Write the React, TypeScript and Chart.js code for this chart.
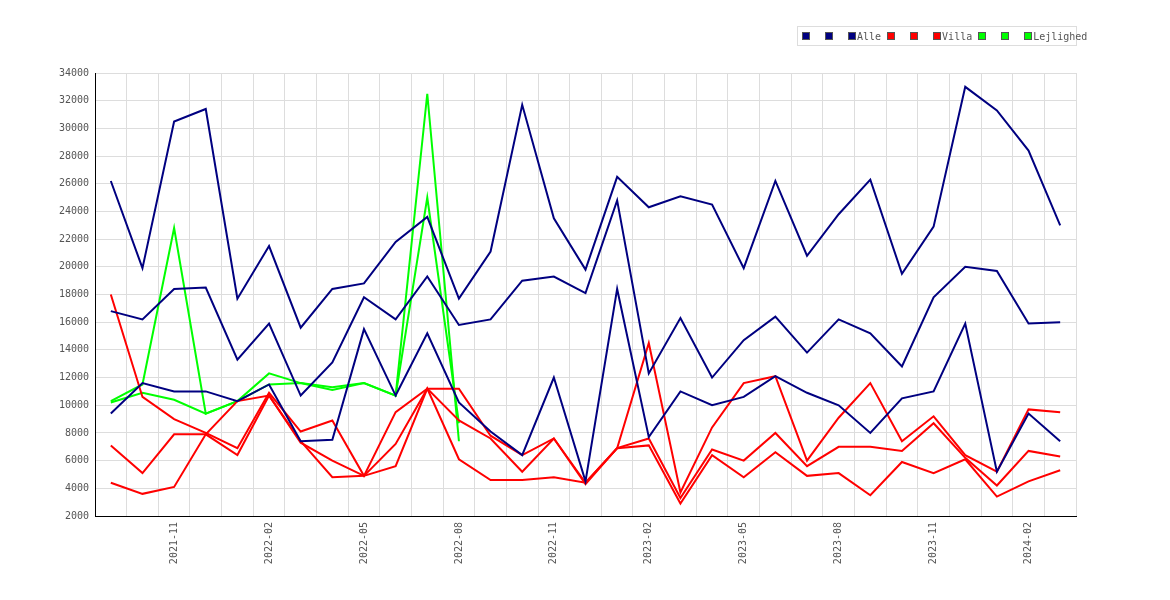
import React, { useEffect, useRef } from "react";
import { Chart, registerables } from "chart.js";
Chart.register(...registerables);

const months = ["2021-09","2021-10","2021-11","2021-12","2022-01","2022-02","2022-03","2022-04","2022-05","2022-06","2022-07","2022-08","2022-09","2022-10","2022-11","2022-12","2023-01","2023-02","2023-03","2023-04","2023-05","2023-06","2023-07","2023-08","2023-09","2023-10","2023-11","2023-12","2024-01","2024-02","2024-03"];

const alle1 = [26200,19900,30500,31400,17700,21500,15600,18400,18800,21800,23600,17700,21100,31700,23500,19800,26500,24300,25100,24500,19900,26200,20800,23800,26300,19500,22900,33000,31300,28400,23000];
const alle2 = [16800,16200,18400,18500,13300,15900,10700,13100,17800,16200,19300,15800,16200,19000,19300,18100,24800,12300,16300,12000,14700,16400,13800,16200,15200,12800,17800,20000,19700,15900,16000];
const alle3 = [9400,11600,11000,11000,10300,11500,7400,7500,15500,10700,15200,10200,8100,6400,12000,4500,18400,7700,11000,10000,10600,12100,10900,10000,8000,10500,11000,15900,5200,9400,7400];
const villa1 = [18000,10600,9000,8000,6900,10900,8100,8900,4900,9500,11200,11200,7800,6400,7600,4400,6900,14500,3700,8400,11600,12100,6000,9100,11600,7400,9200,6400,5200,9700,9500];
const villa2 = [7100,5100,7900,7900,6400,10700,7300,6000,4900,7200,11200,8900,7600,5200,7600,4300,6900,7600,3300,6800,6000,8000,5600,7000,7000,6700,8700,6200,4200,6700,6300];
const villa3 = [4400,3600,4100,7900,10300,10700,7400,4800,4900,5600,11200,6100,4600,4600,4800,4400,6900,7100,2900,6400,4800,6600,4900,5100,3500,5900,5100,6100,3400,4500,5300];
const lej1: (number | null)[] = [10300,11500,22800,9400,10300,12300,11600,11300,11600,10700,32500,7400];
const lej2: (number | null)[] = [10200,10900,10400,9400,10300,11500,11600,11100,11600,10700,25000,8700];
const lej3: (number | null)[] = [];
const tickEvery = 3;

const NAVY = "#000080", RED = "#ff0000", GREEN = "#00ff00";

export default function App() {
  const ref = useRef<HTMLCanvasElement>(null);
  useEffect(() => {
    document.body.style.margin = "0";
    const mk = (data: (number | null)[], c: string) => ({
      label: "", data, borderColor: c, backgroundColor: c, borderWidth: 2,
      pointRadius: 0, tension: 0, fill: false,
    });
    const chart = new Chart(ref.current!, {
      type: "line",
      data: {
        labels: months,
        datasets: [mk(alle1, NAVY), mk(alle2, NAVY), mk(alle3, NAVY), mk(villa1, RED), mk(villa2, RED), mk(villa3, RED), mk(lej1, GREEN), mk(lej2, GREEN), mk(lej3, GREEN)],
      },
      options: {
        animation: false, responsive: false,
        layout: { padding: { top: 73, right: 94, left: 0, bottom: 0 } },
        plugins: { legend: { display: false }, tooltip: { enabled: false } },
        scales: {
          x: {
            offset: true,
            grid: { color: "#dddddd", offset: true, drawTicks: false },
            border: { color: "#000", width: 1 },
            afterFit: (s: any) => { s.height = 84; },
            ticks: {
              autoSkip: false, maxRotation: 90, minRotation: 90, color: "#555",
              font: { family: "DejaVu Sans Mono", size: 10 }, padding: 6,
              callback: (_v: any, i: number) => (i % tickEvery === 2 ? months[i] : ""),
            },
          },
          y: {
            min: 2000, max: 34000,
            grid: { color: "#dddddd", drawTicks: false },
            border: { color: "#000", width: 1 },
            afterFit: (s: any) => { s.width = 95; },
            ticks: { stepSize: 2000, color: "#555", padding: 6, font: { family: "DejaVu Sans Mono", size: 10 }, callback: (v: any) => String(v) },
          },
        },
      },
    });
    return () => chart.destroy();
  }, []);
  const entries = [
    [NAVY, ""], [NAVY, ""], [NAVY, "Alle"],
    [RED, ""], [RED, ""], [RED, "Villa"],
    [GREEN, ""], [GREEN, ""], [GREEN, "Lejlighed"],
  ];
  return (
    <div style={{ position: "relative", width: 1170, height: 600 }}>
      <canvas ref={ref} width={1170} height={600} />
      <div style={{ position: "absolute", left: 797, top: 26, width: 280, height: 20, border: "1px solid #ddd", boxSizing: "border-box", display: "flex", alignItems: "center", paddingLeft: 4, fontFamily: "DejaVu Sans Mono", fontSize: 10, color: "#555", background: "#fff" }}>
        {entries.map(([c, t], i) => (
          <span key={i} style={{ display: "flex", alignItems: "center", marginRight: t ? 6 : 15 }}>
            <span style={{ width: 6, height: 6, background: c, border: "1px solid #555", display: "inline-block" }} />
            {t ? <span style={{ marginLeft: 1 }}>{t}</span> : null}
          </span>
        ))}
      </div>
    </div>
  );
}
